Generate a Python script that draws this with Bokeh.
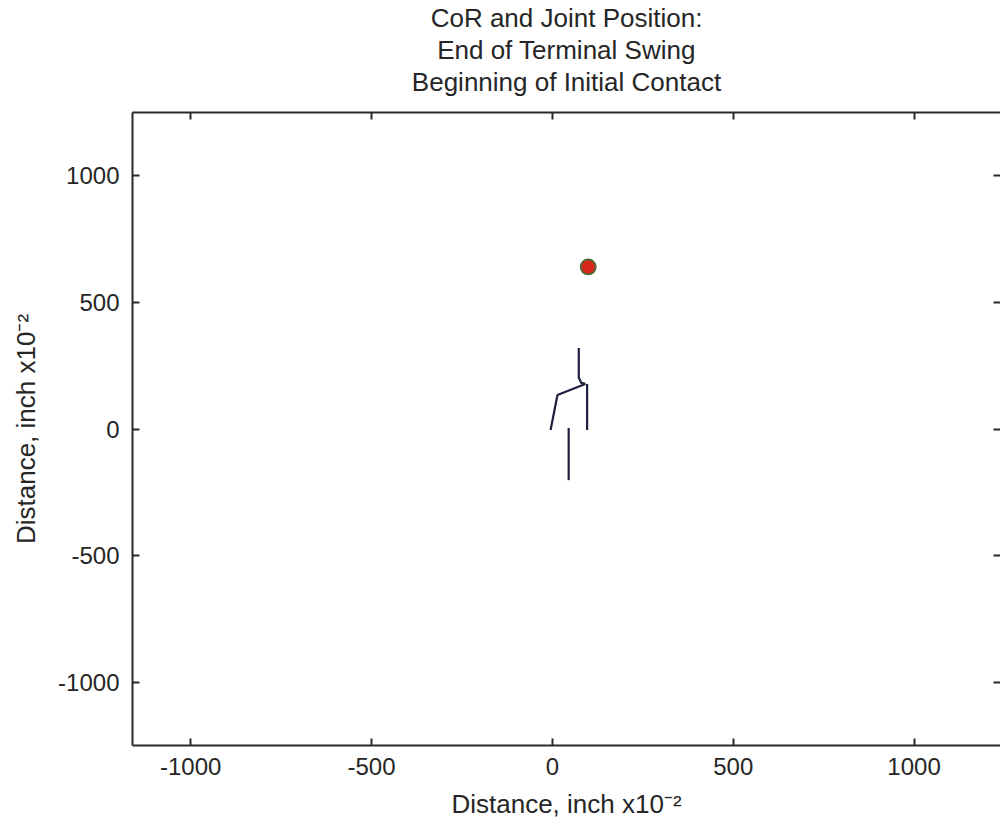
from bokeh.plotting import figure
from bokeh.models import LinearAxis, FixedTicker, Range1d, Title
from bokeh.embed import file_html
from bokeh.resources import INLINE

# ---- data (inch x10^-2) ----
x_ticks = [-1000, -500, 0, 500, 1000]
y_ticks = [-1000, -500, 0, 500, 1000]
tick_text = {-1000: "-1000", -500: "-500", 0: "0", 500: "500", 1000: "1000"}

trunk_x = [73, 73, 80, 91]
trunk_y = [320, 202, 182, 178]

thigh_x = [91, 14, -5]
thigh_y = [178, 134, -4]

shank_x = [96, 96]
shank_y = [178, -4]

leg2_x = [45, 45]
leg2_y = [4, -202]

cor_x = [99]
cor_y = [640]

title_lines = ["CoR and Joint Position:", "End of Terminal Swing", "Beginning of Initial Contact"]
axis_text = "Distance, inch x10\u207b\u00b2"

FONT = "Liberation Sans"
TXT = "#262626"
AX = "#2a2a2a"

p = figure(width=1000, height=824, output_backend="svg", toolbar_location=None, title=None,
           x_range=Range1d(-1161, 1239), y_range=Range1d(-1250, 1250),
           min_border_left=132, min_border_right=0, min_border_top=112, min_border_bottom=79,
           x_axis_location=None, y_axis_location=None)
p.grid.visible = False
p.outline_line_color = None
p.background_fill_color = "white"
p.border_fill_color = "white"

def mk_axis(ticks, labels=True):
    ax = LinearAxis(ticker=FixedTicker(ticks=ticks), major_tick_in=7, major_tick_out=0,
                    minor_tick_line_color=None, axis_line_color=AX, axis_line_width=2,
                    major_tick_line_color=AX, major_tick_line_width=2)
    if labels:
        ax.major_label_text_font = FONT
        ax.major_label_text_font_size = "24px"
        ax.major_label_text_color = TXT
        ax.major_label_overrides = {k: v for k, v in tick_text.items()}
        ax.axis_label = axis_text
        ax.axis_label_text_font = FONT
        ax.axis_label_text_font_size = "26px"
        ax.axis_label_text_font_style = "normal"
        ax.axis_label_text_color = TXT
    else:
        ax.major_label_text_font_size = "0px"
        ax.major_label_standoff = 0
    return ax

bx = mk_axis(x_ticks); bx.major_label_standoff = 12; bx.axis_label_standoff = 11
p.add_layout(bx, "below")
lx = mk_axis(y_ticks); lx.major_label_standoff = 13; lx.axis_label_standoff = 14
p.add_layout(lx, "left")
tx = mk_axis(x_ticks, False)
p.add_layout(tx, "above")
rx = mk_axis(y_ticks, False); rx.axis_line_color = None
p.add_layout(rx, "right")

LC = "#1e2040"
for xs, ys in [(trunk_x, trunk_y), (thigh_x, thigh_y), (shank_x, shank_y), (leg2_x, leg2_y)]:
    p.line(xs, ys, line_color=LC, line_width=2.2)

p.scatter(cor_x, cor_y, size=15, fill_color="#d8281c", line_color="#4e6a36", line_width=1.8)

# spacer between the frame and the title block
p.add_layout(Title(text=" ", text_font_size="1px", standoff=13), "above")
# title (three lines, added bottom-up)
for t in reversed(title_lines):
    p.add_layout(Title(text=t, align="center", text_font=FONT, text_font_size="26px",
                       text_font_style="normal", text_color=TXT, standoff=0), "above")

open("out.html", "w").write(file_html(p, INLINE))
